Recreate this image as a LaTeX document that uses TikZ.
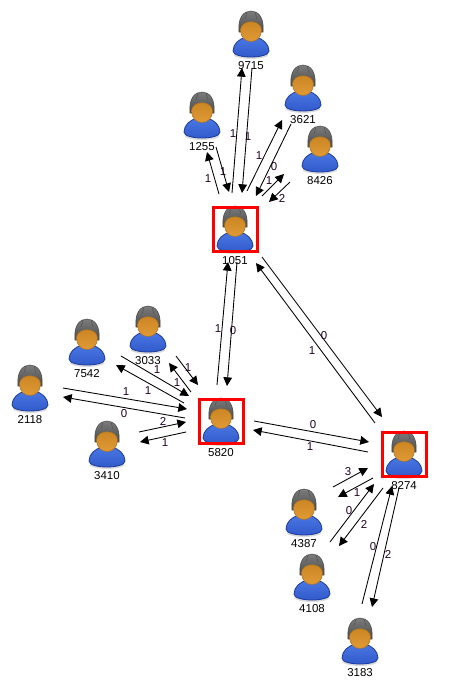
\documentclass[tikz,border=0pt]{standalone}
\usepackage{fontspec}
\setmainfont{Liberation Sans}
\usetikzlibrary{arrows.meta}
\definecolor{skin}{HTML}{E09A35}
\definecolor{skintop}{HTML}{C98322}
\definecolor{skindark}{HTML}{A9701E}
\definecolor{shirt}{HTML}{2F56C8}
\definecolor{shirtlight}{HTML}{4A78E4}
\definecolor{shirtdark}{HTML}{1B3A9C}
\definecolor{capgray}{HTML}{4A4A4A}
\definecolor{capband}{HTML}{7C7C7C}
\tikzset{
    msg/.style={-{Triangle[length=6.5pt,width=6.5pt]}, line width=0.65pt, black},
    msglabel/.style={font=\fontsize{8.6}{10}\selectfont, text=black!75!violet, inner sep=0pt},
    idlabel/.style={font=\fontsize{8.6}{10}\selectfont, inner sep=0pt},
    hubbox/.style={draw=red, line width=2.25pt, minimum size=33pt, inner sep=0pt},
    usernode/.style={minimum width=27.75pt, minimum height=34.5pt, inner sep=0pt},
    person/.pic={
        % shadow, body, cap, head
        \fill[black!14] (-17,22) .. controls (-9,26) and (9,26) .. (17,22) -- (16,18) -- (-16,18) -- cycle;
        \draw[shirtdark, line width=0.6pt, top color=shirtlight, bottom color=shirt]
            (-18,17) .. controls (-18,10) and (-12,5) .. (-5,3) -- (5,3)
            .. controls (12,5) and (18,10) .. (18,17)
            .. controls (18,25) and (-18,25) .. (-18,17) -- cycle;
        \draw[black!70, line width=0.4pt, top color=capband, bottom color=capgray]
            (-12,-2) .. controls (-13.5,-17) and (-7,-23) .. (0,-23)
            .. controls (7,-23) and (13.5,-17) .. (12,-2) -- cycle;
        \draw[capband!70!black, line width=0.5pt] (-4,-22) -- (-6,-15) (4,-22) -- (6,-15);
        \draw[skindark, line width=0.4pt, top color=skintop, bottom color=skin]
            (-10.5,-4) .. controls (-10.5,-15) and (10.5,-15) .. (10.5,-4)
            .. controls (10.5,3) and (6,7.5) .. (0,7.5)
            .. controls (-6,7.5) and (-10.5,3) .. (-10.5,-4) -- cycle;
    }
}

\begin{document}
\begin{tikzpicture}[x=0.75pt, y=-0.75pt]
    \useasboundingbox (0,0) rectangle (472,689);

    % Users
    \foreach \uid/\ux/\uy in {9715/251/34, 3621/303/88, 1255/202/115, 8426/320/149, 1051/235/229,
        5820/221/421, 7542/87/342, 3033/148/329, 2118/30/388, 3410/107/444,
        8274/404/454, 4387/304/512, 4108/312/577, 3183/360/641} {
        \node[usernode] (n\uid) at (\ux,\uy) {};
        \pic at (n\uid.center) {person};
        \node[idlabel] (t\uid) at ([yshift=-31.5*0.75pt]n\uid.center) {\uid};
    }

    % Red boxes
    \node[hubbox] (b1051) at (n1051.center) {};
    \node[hubbox] (b5820) at (n5820.center) {};
    \node[hubbox] (b8274) at (n8274.center) {};

    % Around 1051
    \draw[msg] ([shift={(-3,-36)}]n1051.center) -- ([shift={(-9,34)}]n9715.center);
    \node[msglabel] (la) at (233,134) {1};
    \draw[msg] ([shift={(1,34)}]n9715.center) -- ([shift={(7,-36)}]n1051.center);
    \node[msglabel] (lb) at (248,137) {1};
    \draw[msg] ([shift={(-16,-35)}]n1051.center) -- ([shift={(5,37)}]n1255.center);
    \node[msglabel] (lc) at (208,179) {1};
    \draw[msg] ([shift={(14,32)}]n1255.center) -- ([shift={(-6,-37)}]n1051.center);
    \node[msglabel] (ld) at (223,172) {1};
    \draw[msg] ([shift={(12,-38)}]n1051.center) -- ([shift={(-21,32)}]n3621.center);
    \node[msglabel] (le) at (259,156) {1};
    \draw[msg] ([shift={(-12,36)}]n3621.center) -- ([shift={(21,-33)}]n1051.center);
    \node[msglabel] (lf) at (274,167) {0};
    \draw[msg] ([shift={(27,-33)}]n1051.center) -- ([shift={(-36,25)}]n8426.center);
    \node[msglabel] (lg) at (269,181) {1};
    \draw[msg] ([shift={(-30,33)}]n8426.center) -- ([shift={(34,-27)}]n1051.center);
    \node[msglabel] (lh) at (282,198) {2};

    % 1051 and 5820
    \draw[msg] ([shift={(-4,-36)}]n5820.center) -- ([shift={(-7,33)}]n1051.center);
    \node[msglabel] (li) at (218,329) {1};
    \draw[msg] ([shift={(2,33)}]n1051.center) -- ([shift={(6,-35)}]n5820.center);
    \node[msglabel] (lj) at (233,331) {0};

    % 1051 and 8274
    \draw[msg] ([shift={(27,28)}]n1051.center) -- ([shift={(-22,-37)}]n8274.center);
    \node[msglabel] (lk) at (324,336) {0};
    \draw[msg] ([shift={(-29,-31)}]n8274.center) -- ([shift={(21,34)}]n1051.center);
    \node[msglabel] (ll) at (312,351) {1};

    % 5820 and 8274
    \draw[msg] ([shift={(33,0)}]n5820.center) -- ([shift={(-35,-12)}]n8274.center);
    \node[msglabel] (lm) at (313,425) {0};
    \draw[msg] ([shift={(-36,-2)}]n8274.center) -- ([shift={(32,9)}]n5820.center);
    \node[msglabel] (ln) at (310,447) {1};

    % Around 8274
    \draw[msg] ([shift={(29,-25)}]n4387.center) -- ([shift={(-36,14)}]n8274.center);
    \node[msglabel] (lo) at (348,472) {3};
    \draw[msg] ([shift={(-31,24)}]n8274.center) -- ([shift={(34,-15)}]n4387.center);
    \node[msglabel] (lp) at (357,493) {1};
    \draw[msg] ([shift={(18,-35)}]n4108.center) -- ([shift={(-30,30)}]n8274.center);
    \node[msglabel] (lq) at (349,511) {0};
    \draw[msg] ([shift={(-21,34)}]n8274.center) -- ([shift={(27,-31)}]n4108.center);
    \node[msglabel] (lr) at (364,524) {2};
    \draw[msg] ([shift={(2,-37)}]n3183.center) -- ([shift={(-12,32)}]n8274.center);
    \node[msglabel] (ls) at (373,547) {0};
    \draw[msg] ([shift={(-5,34)}]n8274.center) -- ([shift={(12,-34)}]n3183.center);
    \node[msglabel] (lt) at (388,554) {2};

    % Around 5820
    \draw[msg] ([shift={(34,14)}]n7542.center) -- ([shift={(-32,-25)}]n5820.center);
    \node[msglabel] (lu) at (157,370) {1};
    \draw[msg] ([shift={(-37,-18)}]n5820.center) -- ([shift={(29,23)}]n7542.center);
    \node[msglabel] (lv) at (148,391) {1};
    \draw[msg] ([shift={(28,27)}]n3033.center) -- ([shift={(-23,-36)}]n5820.center);
    \node[msglabel] (lw) at (188,368) {1};
    \draw[msg] ([shift={(-30,-29)}]n5820.center) -- ([shift={(21,34)}]n3033.center);
    \node[msglabel] (lx) at (177,383) {1};
    \draw[msg] ([shift={(33,0)}]n2118.center) -- ([shift={(-34,-12)}]n5820.center);
    \node[msglabel] (ly) at (126,392) {1};
    \draw[msg] ([shift={(-36,-3)}]n5820.center) -- ([shift={(33,9)}]n2118.center);
    \node[msglabel] (lz) at (124,414) {0};
    \draw[msg] ([shift={(32,-12)}]n3410.center) -- ([shift={(-35,1)}]n5820.center);
    \node[msglabel] (laa) at (163,421) {2};
    \draw[msg] ([shift={(-35,11)}]n5820.center) -- ([shift={(33,-2)}]n3410.center);
    \node[msglabel] (lbb) at (165,443) {1};
\end{tikzpicture}
\end{document}
